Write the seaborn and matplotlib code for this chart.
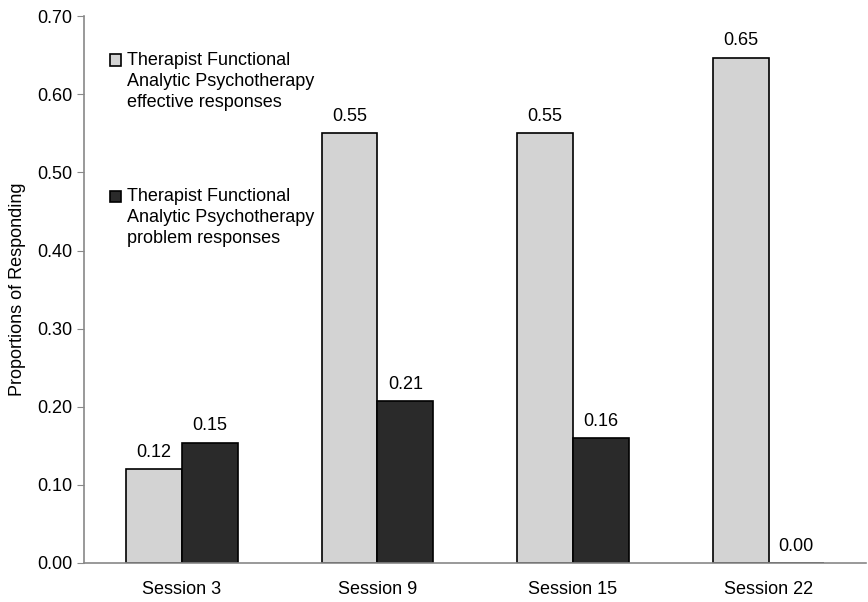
import pandas as pd
import matplotlib.pyplot as plt
import numpy as np
import seaborn as sns
from matplotlib.patches import Rectangle
from matplotlib.legend_handler import HandlerPatch

# Values
sessions = ['Session 3', 'Session 9', 'Session 15', 'Session 22']
effective = [0.12, 0.55, 0.55, 0.647]
problem = [0.154, 0.207, 0.16, 0.0]
series_names = ['Therapist Functional\nAnalytic Psychotherapy\neffective responses',
                'Therapist Functional\nAnalytic Psychotherapy\nproblem responses']

data = pd.DataFrame({
    'Session': sessions * 2,
    'Proportion': effective + problem,
    'Series': [series_names[0]] * 4 + [series_names[1]] * 4,
})

sns.set_style('white')
plt.rcParams['font.family'] = ['Liberation Sans', 'DejaVu Sans']
plt.rcParams['text.color'] = 'black'
plt.rcParams['axes.labelcolor'] = 'black'
plt.rcParams['xtick.labelcolor'] = 'black'
plt.rcParams['ytick.labelcolor'] = 'black'

FS = 13

fig = plt.figure(figsize=(8.68, 6.02), dpi=100)
ax = fig.add_axes([0.097, 0.065, 0.901, 0.908])

sns.barplot(data=data, x='Session', y='Proportion', hue='Series',
            palette=['#d3d3d3', '#2a2a2a'], width=0.57, edgecolor='black',
            linewidth=1.2, saturation=1, ax=ax)

# Value labels above each bar
for container in ax.containers:
    ax.bar_label(container, fmt='%.2f', padding=6, fontsize=FS)

ax.set_ylim(0, 0.70)
ax.set_xlim(-0.5, 3.5)
ax.set_yticks(np.arange(0, 0.71, 0.10))
ax.set_yticklabels([f'{v:.2f}' for v in np.arange(0, 0.71, 0.10)], fontsize=FS)
ax.set_ylabel('Proportions of Responding', fontsize=FS, labelpad=8)
ax.set_xlabel('')
ax.tick_params(axis='x', which='major', length=0, labelsize=FS, pad=13)
ax.set_xticks(np.arange(-0.5, 3.6, 1.0), minor=True)
ax.tick_params(axis='x', which='minor', length=5, color='#888888', direction='out')
ax.tick_params(axis='y', length=5, color='#888888', direction='out', left=True)

for side in ['top', 'right']:
    ax.spines[side].set_visible(False)
for side in ['left', 'bottom']:
    ax.spines[side].set_color('#888888')
    ax.spines[side].set_linewidth(1.2)


# legend square sits level with the first text line
def top_square(legend, orig_handle, xdescent, ydescent, width, height, fontsize):
    return Rectangle((-xdescent, -ydescent + fontsize * 1.17), width, height)


handles, labels = ax.get_legend_handles_labels()
leg = ax.legend(handles, labels, loc='upper left', bbox_to_anchor=(0.033, 0.935),
                frameon=False, fontsize=FS, labelspacing=4.3, handlelength=0.62,
                handleheight=0.62, handletextpad=0.3, borderpad=0, borderaxespad=0,
                handler_map={h: HandlerPatch(patch_func=top_square) for h in handles})
for t in leg.get_texts():
    t.set_linespacing(1.3)

plt.savefig('out.png', dpi=100)
